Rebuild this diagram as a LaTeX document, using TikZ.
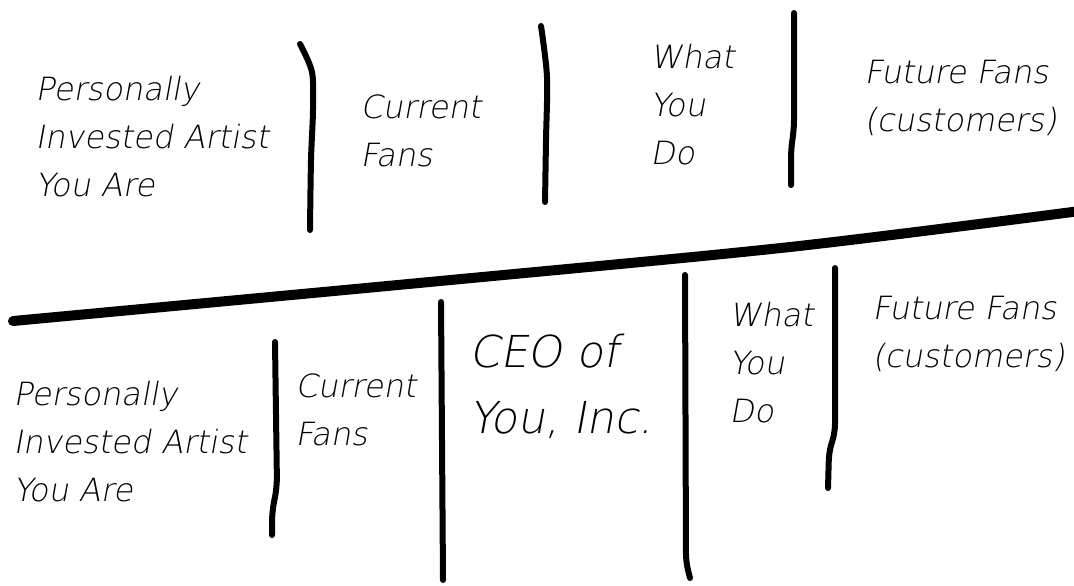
\documentclass[tikz,border=0pt]{standalone}
\usepackage{fontspec}
\usepackage{tikz}

% hand lettering
\newfontfamily\handfont{DejaVu Sans ExtraLight}[FakeSlant=0.18]
\newcommand{\notefont}{\handfont\fontsize{16}{24}\selectfont}
\newcommand{\bossfont}{\handfont\fontsize{22}{33}\selectfont}

\tikzset{
  divider/.style={line width=3pt, line cap=round, line join=round},
  splitline/.style={line width=5pt, line cap=round, line join=round},
  note/.style={anchor=north west, inner sep=0pt, align=left, font=\notefont},
  boss/.style={note, font=\bossfont}
}

\begin{document}
\begin{tikzpicture}[x=0.5pt, y=-0.5pt]
  \clip (0,0) rectangle (1074,585);

  % upper sketch
  \node[note] (artistA) at (35,76) {Personally\\Invested Artist\\You Are};
  \node[note] (fansA) at (360,94) {Current\\Fans};
  \node[note] (doA) at (650,44) {What\\You\\Do};
  \node[note] (futureA) at (864,60) {Future Fans\\(customers)};

  \draw[divider] plot[smooth, tension=0.5] coordinates {(300,44) (312,72) (313,110) (311,160) (310,230)};
  \draw[divider] plot[smooth, tension=0.5] coordinates {(541,26) (547,77) (546,140) (545,202)};
  \draw[divider, rounded corners=4pt] (794,13) -- (794,128) -- (791,150) -- (791,185);

  % the split
  \draw[splitline] plot[smooth, tension=0.5] coordinates {(13,321) (440,281) (790,247) (1080,211)};

  % lower sketch
  \node[note] (artistB) at (13,381) {Personally\\Invested Artist\\You Are};
  \node[note] (fansB) at (295,373) {Current\\Fans};
  \node[boss] (ceo) at (469,334) {CEO of\\You, Inc.};
  \node[note] (doB) at (729,302) {What\\You\\Do};
  \node[note] (futureB) at (872,296) {Future Fans\\(customers)};

  \draw[divider, rounded corners=5pt] (275,342) -- (277,487) -- (272,512) -- (272,535);
  \draw[divider] (441,302) -- (443,580);
  \draw[divider, rounded corners=4pt] (685,275) -- (686,562) -- (690,578);
  \draw[divider, rounded corners=4pt] (835,268) -- (835,432) -- (829,452) -- (828,488);
\end{tikzpicture}
\end{document}
